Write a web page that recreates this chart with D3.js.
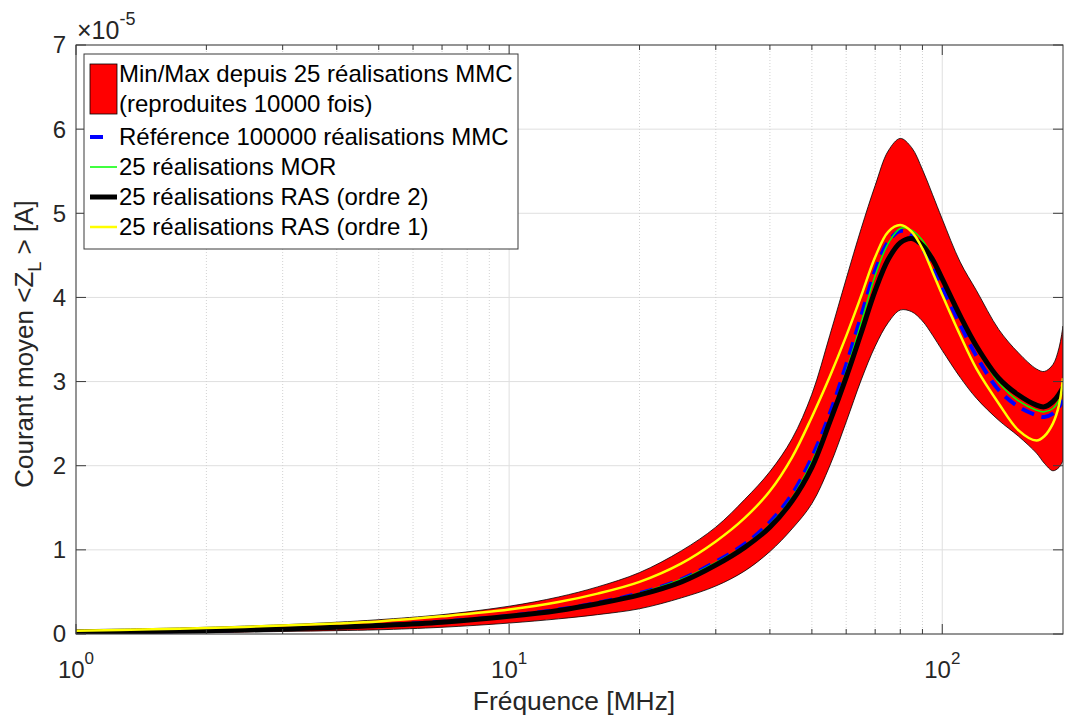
<!DOCTYPE html>
<html>
<head>
<meta charset="utf-8">
<script src="https://cdn.jsdelivr.net/npm/d3@7"></script>
<style>
  html, body { margin: 0; padding: 0; background: #fff; }
  svg { display: block; font-family: "Liberation Sans", Arial, Helvetica, sans-serif; }
</style>
</head>
<body>
<svg id="chart" width="1065" height="719"></svg>
<script>
// Frequency samples [MHz]
const freq = [1, 1.5, 2, 3, 4, 5, 7, 10, 13, 16, 20, 25, 30, 35, 40, 45, 50, 55, 60, 65,
              70, 75, 80, 85, 90, 95, 100, 110, 120, 135, 150, 165, 172, 180, 186, 190];

// Mean current, in units of 1e-5 A
const bandMax = [0.05, 0.065, 0.08, 0.11, 0.14, 0.17, 0.23, 0.33, 0.44, 0.56, 0.73, 0.99, 1.27, 1.60, 1.93, 2.32, 2.85, 3.55, 4.22, 4.82,
                 5.33, 5.74, 5.89, 5.78, 5.52, 5.22, 4.93, 4.42, 4.08, 3.62, 3.34, 3.15, 3.12, 3.20, 3.40, 3.66];
const bandMin = [0.005, 0.01, 0.015, 0.03, 0.04, 0.05, 0.08, 0.13, 0.18, 0.23, 0.30, 0.43, 0.57, 0.75, 0.98, 1.25, 1.55, 2.00, 2.52, 3.02,
                 3.42, 3.70, 3.85, 3.83, 3.72, 3.55, 3.37, 3.05, 2.80, 2.54, 2.35, 2.15, 2.03, 1.94, 1.98, 2.06];
const refMMC  = [0.02, 0.03, 0.04, 0.062, 0.083, 0.104, 0.146, 0.215, 0.29, 0.37, 0.485, 0.65, 0.86, 1.07, 1.33, 1.66, 2.10, 2.62, 3.20, 3.78,
                 4.32, 4.66, 4.79, 4.74, 4.58, 4.36, 4.12, 3.68, 3.30, 2.90, 2.70, 2.60, 2.58, 2.62, 2.70, 2.78];
const morMean = [0.02, 0.03, 0.04, 0.062, 0.083, 0.104, 0.146, 0.215, 0.29, 0.37, 0.485, 0.65, 0.85, 1.05, 1.30, 1.62, 2.05, 2.56, 3.12, 3.70,
                 4.26, 4.64, 4.82, 4.80, 4.68, 4.48, 4.24, 3.78, 3.40, 2.99, 2.77, 2.66, 2.64, 2.68, 2.78, 2.92];
const ras2Mean = [0.02, 0.03, 0.04, 0.06, 0.08, 0.10, 0.14, 0.21, 0.28, 0.36, 0.465, 0.62, 0.82, 1.03, 1.27, 1.58, 1.98, 2.52, 3.05, 3.58,
                  4.08, 4.45, 4.65, 4.70, 4.62, 4.45, 4.22, 3.78, 3.42, 3.04, 2.84, 2.72, 2.70, 2.76, 2.85, 2.93];
const ras1Mean = [0.04, 0.055, 0.07, 0.10, 0.125, 0.15, 0.21, 0.29, 0.38, 0.48, 0.62, 0.84, 1.10, 1.38, 1.70, 2.10, 2.58, 3.06, 3.54, 4.02,
                  4.48, 4.78, 4.86, 4.78, 4.58, 4.30, 4.03, 3.55, 3.15, 2.74, 2.42, 2.30, 2.35, 2.50, 2.72, 3.04];

// Axis ticks
const yTicks = [0, 1, 2, 3, 4, 5, 6, 7];
const xMajor = [1, 10, 100];
const xMajorExp = ["0", "1", "2"];
const xMinor = [2, 3, 4, 5, 6, 7, 8, 9, 20, 30, 40, 50, 60, 70, 80, 90];

// Legend entries
const legendLabels = [
  ["Min/Max depuis 25 réalisations MMC", "(reproduites 10000 fois)"],
  ["Référence 100000 réalisations MMC"],
  ["25 réalisations MOR"],
  ["25 réalisations RAS (ordre 2)"],
  ["25 réalisations RAS (ordre 1)"]
];

const svg = d3.select("#chart");
const L = 76, R = 1063, T = 45, B = 634;
const axisColor = "#3a3a3a", textColor = "#262626";

const x = d3.scaleLog().domain([1, 190]).range([L, R]);
const y = d3.scaleLinear().domain([0, 7]).range([B, T]);

svg.append("rect").attr("width", 1065).attr("height", 719).attr("fill", "#fff");

// Grid
const grid = svg.append("g");
grid.selectAll(".gy").data(yTicks).join("line")
  .attr("x1", L).attr("x2", R).attr("y1", d => y(d)).attr("y2", d => y(d))
  .attr("stroke", "#dfdfdf").attr("stroke-width", 1);
grid.selectAll(".gxm").data(xMinor).join("line")
  .attr("x1", d => x(d)).attr("x2", d => x(d)).attr("y1", T).attr("y2", B)
  .attr("stroke", "#d2d2d2").attr("stroke-width", 1).attr("stroke-dasharray", "1,2");
grid.selectAll(".gx").data(xMajor).join("line")
  .attr("x1", d => x(d)).attr("x2", d => x(d)).attr("y1", T).attr("y2", B)
  .attr("stroke", "#dfdfdf").attr("stroke-width", 1);

// Plot content clipped to the axes box
svg.append("defs").append("clipPath").attr("id", "plotClip")
  .append("rect").attr("x", L).attr("y", T).attr("width", R - L).attr("height", B - T);
const plot = svg.append("g").attr("clip-path", "url(#plotClip)");

const idx = d3.range(freq.length);
const area = d3.area()
  .x(i => x(freq[i])).y0(i => y(bandMin[i])).y1(i => y(bandMax[i]))
  .curve(d3.curveCatmullRom);
plot.append("path").attr("d", area(idx))
  .attr("fill", "#ff0000").attr("stroke", "#000").attr("stroke-width", 0.8);

function drawLine(values, color, width, dash) {
  const line = d3.line().x(i => x(freq[i])).y(i => y(values[i])).curve(d3.curveCatmullRom);
  const p = plot.append("path").attr("d", line(idx))
    .attr("fill", "none").attr("stroke", color).attr("stroke-width", width)
    .attr("stroke-linejoin", "round");
  if (dash) p.attr("stroke-dasharray", dash);
}
drawLine(refMMC, "#0000ff", 4, "13,8");
drawLine(morMean, "#00ff00", 1.5);
drawLine(ras2Mean, "#000000", 5);
drawLine(ras1Mean, "#ffff00", 2.5);

// Axes box
svg.append("rect").attr("x", L).attr("y", T).attr("width", R - L).attr("height", B - T)
  .attr("fill", "none").attr("stroke", axisColor).attr("stroke-width", 1);

// Ticks (inward, on all four sides)
const ticks = svg.append("g").attr("stroke", axisColor).attr("stroke-width", 1);
yTicks.forEach(v => {
  ticks.append("line").attr("x1", L).attr("x2", L + 10).attr("y1", y(v)).attr("y2", y(v));
  ticks.append("line").attr("x1", R).attr("x2", R - 10).attr("y1", y(v)).attr("y2", y(v));
});
xMajor.forEach(v => {
  ticks.append("line").attr("x1", x(v)).attr("x2", x(v)).attr("y1", B).attr("y2", B - 10);
  ticks.append("line").attr("x1", x(v)).attr("x2", x(v)).attr("y1", T).attr("y2", T + 10);
});
xMinor.forEach(v => {
  ticks.append("line").attr("x1", x(v)).attr("x2", x(v)).attr("y1", B).attr("y2", B - 5);
  ticks.append("line").attr("x1", x(v)).attr("x2", x(v)).attr("y1", T).attr("y2", T + 5);
});

// Tick labels
svg.selectAll(".yl").data(yTicks).join("text")
  .attr("x", L - 10).attr("y", d => y(d)).attr("dy", "0.35em")
  .attr("text-anchor", "end").attr("font-size", 24).attr("fill", textColor)
  .text(d => d);

xMajor.forEach((v, i) => {
  const t = svg.append("text").attr("x", x(v)).attr("y", 678)
    .attr("text-anchor", "middle").attr("font-size", 24).attr("fill", textColor);
  t.append("tspan").text("10");
  t.append("tspan").attr("dy", -14).attr("font-size", 17).text(xMajorExp[i]);
});

// Exponent multiplier above the y axis
const mult = svg.append("text").attr("x", 77).attr("y", 39)
  .attr("font-size", 25).attr("fill", textColor);
mult.append("tspan").text("\u00d710");
mult.append("tspan").attr("dy", -14).attr("font-size", 18).text("-5");

// Axis titles
svg.append("text").attr("x", 574).attr("y", 710).attr("text-anchor", "middle")
  .attr("font-size", 26.4).attr("fill", textColor).text("Fréquence [MHz]");

const yl = svg.append("text").attr("transform", "translate(33,344) rotate(-90)")
  .attr("text-anchor", "middle").attr("font-size", 26).attr("fill", textColor);
yl.append("tspan").text("Courant moyen <Z");
yl.append("tspan").attr("dy", 8).attr("font-size", 18).text("L");
yl.append("tspan").attr("dy", -8).text(" > [A]");

// Legend
const lg = svg.append("g");
lg.append("rect").attr("x", 84).attr("y", 54).attr("width", 434).attr("height", 195)
  .attr("fill", "#fff").attr("stroke", axisColor).attr("stroke-width", 1);
lg.append("rect").attr("x", 90).attr("y", 64).attr("width", 27).attr("height", 50)
  .attr("fill", "#ff0000").attr("stroke", "#000").attr("stroke-width", 0.8);
const rowY = [137, 167, 197, 227];
const sampleStyle = [
  { color: "#0000ff", width: 4, x2: 103 },
  { color: "#00ff00", width: 1.5, x2: 117 },
  { color: "#000000", width: 5, x2: 117 },
  { color: "#ffff00", width: 2.5, x2: 117 }
];
sampleStyle.forEach((s, i) => {
  lg.append("line").attr("x1", 90).attr("x2", s.x2).attr("y1", rowY[i]).attr("y2", rowY[i])
    .attr("stroke", s.color).attr("stroke-width", s.width);
});
const textRows = [
  [legendLabels[0][0], 74], [legendLabels[0][1], 104],
  [legendLabels[1][0], rowY[0]], [legendLabels[2][0], rowY[1]],
  [legendLabels[3][0], rowY[2]], [legendLabels[4][0], rowY[3]]
];
textRows.forEach(([txt, ty]) => {
  lg.append("text").attr("x", 119).attr("y", ty).attr("dy", "0.35em")
    .attr("font-size", 24).attr("fill", "#000").text(txt);
});
</script>
</body>
</html>
